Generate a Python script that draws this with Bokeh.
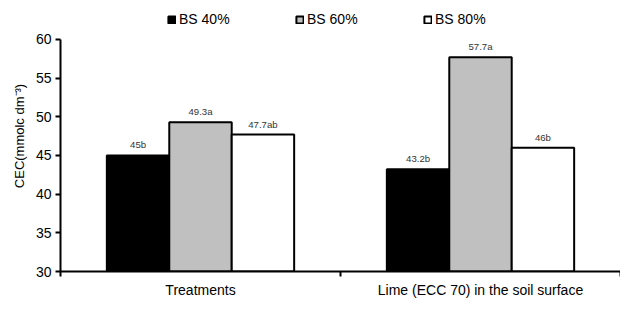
from bokeh.plotting import figure
from bokeh.models import (ColumnDataSource, Range1d, FixedTicker, Legend, LegendItem)
from bokeh.core.properties import value
from bokeh.embed import file_html
from bokeh.resources import INLINE

categories = ["Treatments", "Lime (ECC 70) in the soil surface"]
series = ["BS 40%", "BS 60%", "BS 80%"]
bs40 = [45.0, 43.2]
bs60 = [49.3, 57.7]
bs80 = [47.7, 46.0]
labels40 = ["45b", "43.2b"]
labels60 = ["49.3a", "57.7a"]
labels80 = ["47.7ab", "46b"]
y_ticks = [30, 35, 40, 45, 50, 55, 60]

fills = ["#000000", "#C0C0C0", "#FFFFFF"]
offsets = [-0.223, 0.0, 0.223]
bar_w = 0.223
FONT = "Liberation Sans"

p = figure(width=620, height=300, output_backend="svg", toolbar_location=None,
           x_range=Range1d(0, len(categories)), y_range=Range1d(30, 65.02),
           min_border_left=60, min_border_right=0, min_border_top=0, min_border_bottom=21)
p.outline_line_color = None
p.grid.visible = False
p.background_fill_color = "white"
p.border_fill_color = "white"

items = []
for name, vals, labs, fill, off in zip(series, [bs40, bs60, bs80],
                                        [labels40, labels60, labels80], fills, offsets):
    src = ColumnDataSource(dict(x=[i + 0.5 + off for i in range(len(categories))],
                                top=vals, lab=labs))
    r = p.vbar(x="x", top="top", bottom=30, width=bar_w, source=src,
               fill_color=fill, line_color="black", line_width=2)
    p.text(x="x", y="top", text="lab", source=src, text_align="center",
           text_baseline="bottom", y_offset=-5, text_font=value(FONT),
           text_font_size="9.6px", text_color="#333333")
    items.append(LegendItem(label=name, renderers=[r]))

legend = Legend(items=items, orientation="horizontal", location=(107, 244),
                glyph_width=9, glyph_height=9, label_standoff=3, label_width=100,
                spacing=16, padding=0, margin=0, border_line_color=None,
                label_text_font=FONT, label_text_font_size="14px",
                label_text_color="black", background_fill_alpha=0)
p.add_layout(legend)

# y axis
p.yaxis.bounds = (30, 60)
p.yaxis.ticker = FixedTicker(ticks=y_ticks)
p.yaxis.axis_line_width = 2
p.yaxis.major_tick_line_width = 2
p.yaxis.major_tick_out = 5
p.yaxis.major_tick_in = 0
p.yaxis.minor_tick_line_color = None
p.yaxis.major_label_text_font = FONT
p.yaxis.major_label_text_font_size = "14px"
p.yaxis.major_label_text_color = "black"
p.yaxis.major_label_standoff = 4
p.yaxis.axis_label = "CEC(mmolc dm⁻³)"
p.yaxis.axis_label_text_font = FONT
p.yaxis.axis_label_text_font_style = "normal"
p.yaxis.axis_label_text_font_size = "13px"
p.yaxis.axis_label_text_color = "black"
p.yaxis.axis_label_standoff = 6

# x axis
p.xaxis.ticker = FixedTicker(ticks=[i + 0.5 for i in range(len(categories))],
                             minor_ticks=list(range(len(categories) + 1)))
p.xaxis.major_label_overrides = {i + 0.5: c for i, c in enumerate(categories)}
p.xaxis.major_tick_line_color = None
p.xaxis.major_tick_out = 0
p.xaxis.major_tick_in = 0
p.xaxis.minor_tick_line_width = 2
p.xaxis.minor_tick_out = 5
p.xaxis.minor_tick_in = 0
p.xaxis.axis_line_width = 2
p.xaxis.major_label_text_font = FONT
p.xaxis.major_label_text_font_size = "14px"
p.xaxis.major_label_text_color = "black"
p.xaxis.major_label_standoff = 5

open("out.html", "w").write(file_html(p, INLINE))
